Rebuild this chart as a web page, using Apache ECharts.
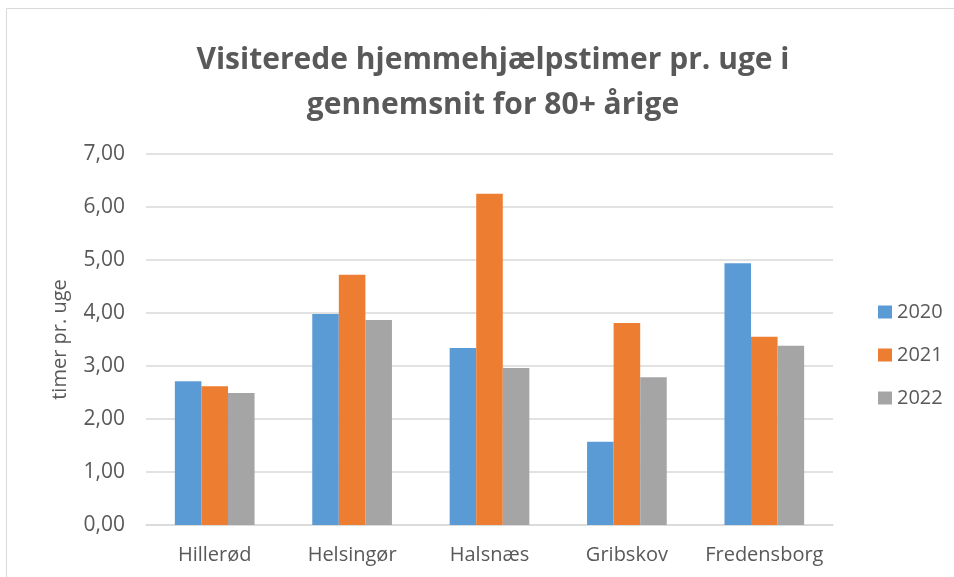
<!DOCTYPE html>
<html><head><meta charset="utf-8">
<script src="https://cdn.jsdelivr.net/npm/echarts@6/dist/echarts.min.js"></script>
<style>html,body{margin:0;padding:0;background:#fff}#c{width:954px;height:577px}</style>
</head><body><div id="c"></div>
<script>
const categories = ["Hillerød", "Helsingør", "Halsnæs", "Gribskov", "Fredensborg"];
const seriesNames = ["2020", "2021", "2022"];
const v2020 = [2.71, 3.98, 3.34, 1.57, 4.94];
const v2021 = [2.62, 4.72, 6.25, 3.81, 3.55];
const v2022 = [2.49, 3.87, 2.96, 2.79, 3.38];
const colors = ["#5B9BD5", "#ED7D31", "#A5A5A5"];
const values = [v2020, v2021, v2022];

const chart = echarts.init(document.getElementById('c'), null, {renderer: 'canvas'});
const font = '"Open Sans", "Noto Sans", sans-serif';
chart.setOption({
  animation: false,
  textStyle: {fontFamily: font},
  graphic: [{type: 'rect', shape: {x: 6.5, y: 8.5, width: 960, height: 580}, style: {fill: null, stroke: '#d9d9d9', lineWidth: 1}, silent: true}],
  title: {
    text: 'Visiterede hjemmehjælpstimer pr. uge i\ngennemsnit for 80+ årige',
    left: 488, top: 33, textAlign: 'center',
    textStyle: {fontFamily: font, fontSize: 30, fontWeight: 'bold', color: '#595959', lineHeight: 45}
  },
  legend: {
    orient: 'vertical', left: 873, top: 297, itemGap: 23, itemWidth: 14, itemHeight: 13,
    icon: 'rect',
    textStyle: {fontFamily: font, fontSize: 20, color: '#595959'},
    data: seriesNames
  },
  grid: {left: 146, right: 121, top: 154, bottom: 52, containLabel: false},
  xAxis: {
    type: 'category', data: categories,
    axisLine: {show: true, lineStyle: {color: '#d9d9d9', width: 1.5}},
    axisTick: {show: false},
    axisLabel: {interval: 0, fontFamily: font, fontSize: 20, color: '#595959', margin: 20}
  },
  yAxis: {
    type: 'value', min: 0, max: 7, interval: 1,
    name: 'timer pr. uge', nameLocation: 'middle', nameGap: 76, nameRotate: 90,
    nameTextStyle: {fontFamily: font, fontSize: 20, color: '#595959'},
    axisLine: {show: false}, axisTick: {show: false},
    axisLabel: {fontFamily: font, fontSize: 21, color: '#595959', margin: 21,
      formatter: v => v.toFixed(2).replace('.', ',')},
    splitLine: {lineStyle: {color: '#d9d9d9', width: 1.5}}
  },
  series: seriesNames.map((n, i) => ({
    name: n, type: 'bar', data: values[i], barGap: '0%', barCategoryGap: '42%',
    itemStyle: {color: colors[i]}
  }))
});
</script></body></html>
